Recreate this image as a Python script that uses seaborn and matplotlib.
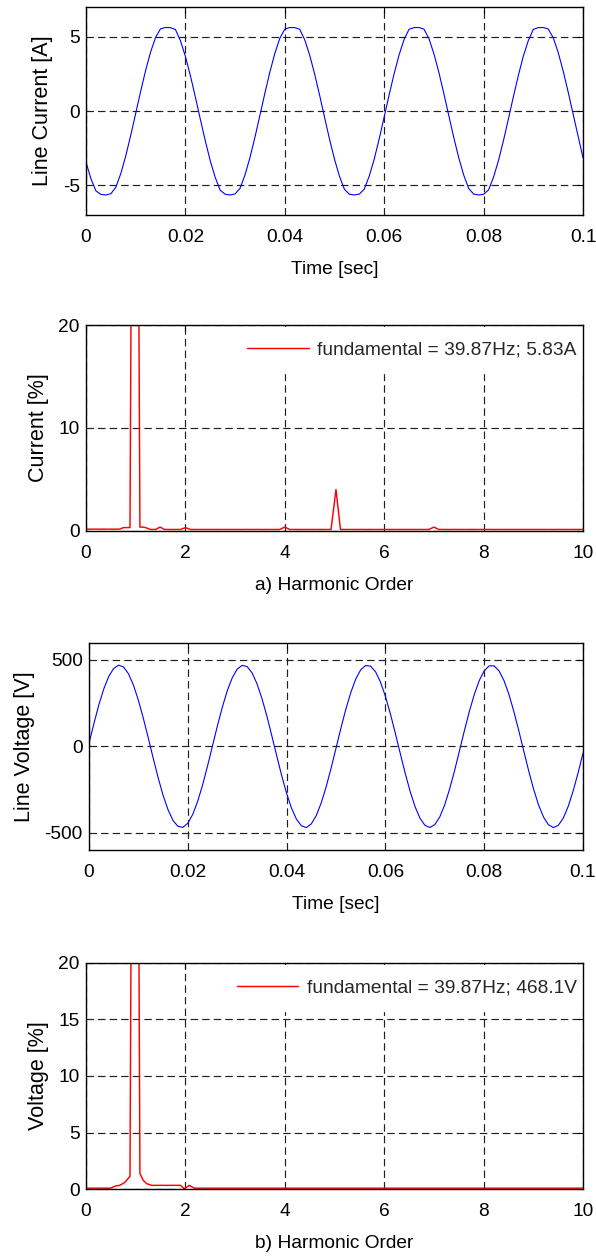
import matplotlib
matplotlib.use("Agg")
import matplotlib.pyplot as plt
import seaborn as sns
import numpy as np
import pandas as pd

# ---------------- data ----------------
t_ms = list(range(0, 101))  # sample instants in ms (0 .. 100 ms)

line_current = [
    -3.44, -4.56, -5.38, -5.61, -5.65, -5.57, -5.13, -4.21, -3.01, -1.63,
    -0.15, 1.34, 2.75, 3.99, 4.97, 5.55, 5.64, 5.63, 5.50, 4.75,
    3.69, 2.40, 0.96, -0.54, -2.00, -3.34, -4.47, -5.33, -5.60, -5.65,
    -5.58, -5.20, -4.29, -3.12, -1.75, -0.27, 1.22, 2.64, 3.90, 4.91,
    5.53, 5.64, 5.63, 5.52, 4.82, 3.78, 2.51, 1.08, -0.42, -1.89,
    -3.24, -4.39, -5.27, -5.60, -5.65, -5.59, -5.25, -4.37, -3.22, -1.86,
    -0.39, 1.11, 2.53, 3.80, 4.83, 5.52, 5.63, 5.64, 5.53, 4.89,
    3.87, 2.61, 1.19, -0.30, -1.78, -3.14, -4.31, -5.21, -5.59, -5.65,
    -5.60, -5.31, -4.45, -3.32, -1.98, -0.51, 0.99, 2.42, 3.71, 4.76,
    5.51, 5.63, 5.64, 5.54, 4.96, 3.96, 2.72, 1.31, -0.18, -1.66,
    -3.14,
]

line_voltage = [
    18, 133, 241, 333, 405, 451, 470, 459, 420, 354,
    267, 162, 48, -69, -182, -284, -367, -429, -463, -469,
    -445, -394, -318, -223, -113, 3, 120, 228, 323, 397,
    447, 469, 462, 426, 363, 278, 176, 62, -55, -169,
    -272, -358, -422, -460, -470, -449, -401, -328, -235, -127,
    -11, 106, 216, 312, 390, 443, 468, 464, 432, 372,
    290, 189, 77, -40, -155, -260, -349, -416, -457, -470,
    -453, -409, -339, -247, -141, -25, 92, 203, 301, 381,
    437, 466, 466, 437, 381, 301, 202, 91, -26, -141,
    -248, -339, -409, -454, -470, -457, -416, -348, -259, -154,
    -40,
]

h_current = [0, 0.68, 0.75, 0.885, 0.985, 1.085, 1.14, 1.2, 1.3, 1.4,
             1.49, 1.58, 1.9, 2.0, 2.1, 3.9, 4.0, 4.1, 4.93, 5.03,
             5.12, 6.9, 7.0, 7.1, 10]
spec_current = [0.15, 0.15, 0.3, 0.3, 100, 0.35, 0.35, 0.3, 0.12, 0.12,
                0.35, 0.12, 0.12, 0.3, 0.12, 0.12, 0.35, 0.12, 0.12, 4.0,
                0.12, 0.12, 0.35, 0.12, 0.12]

h_voltage = [0, 0.49, 0.6, 0.68, 0.78, 0.885, 0.985, 1.085, 1.15, 1.22,
             1.32, 1.45, 1.9, 1.98, 2.08, 2.18, 10]
spec_voltage = [0.1, 0.1, 0.3, 0.35, 0.6, 1.15, 100, 1.4, 0.8, 0.5,
                0.35, 0.35, 0.35, 0.05, 0.35, 0.1, 0.1]

legend_current = "fundamental = 39.87Hz; 5.83A"
legend_voltage = "fundamental = 39.87Hz; 468.1V"

time_ticks = [0, 0.02, 0.04, 0.06, 0.08, 0.1]
time_ticklabels = ["0", "0.02", "0.04", "0.06", "0.08", "0.1"]
order_ticks = [0, 2, 4, 6, 8, 10]

# ---------------- style ----------------
sns.set_theme(style="white")
plt.rcParams["font.family"] = ["Liberation Sans", "DejaVu Sans"]
plt.rcParams["axes.unicode_minus"] = False

TICK_FS = 13.8
LABEL_FS = 15.5
XLABEL_FS = 13.8

fig = plt.figure(figsize=(5.96, 12.6), dpi=100)
W, H = 596.0, 1260.0


def add_axes(left, right, top, bottom):
    return fig.add_axes([left / W, 1 - bottom / H, (right - left) / W, (bottom - top) / H])


ax1 = add_axes(86, 583, 7.3, 215)
ax2 = add_axes(86, 583, 325, 530.7)
ax3 = add_axes(89, 583, 642.7, 850)
ax4 = add_axes(86, 583, 962.7, 1189.3)

df_i = pd.DataFrame({"t": np.array(t_ms) / 1000.0, "i": line_current})
df_v = pd.DataFrame({"t": np.array(t_ms) / 1000.0, "v": line_voltage})
df_hi = pd.DataFrame({"h": h_current, "p": spec_current})
df_hv = pd.DataFrame({"h": h_voltage, "p": spec_voltage})

sns.lineplot(data=df_i, x="t", y="i", ax=ax1, color="#0000ff", lw=0.8, estimator=None)
sns.lineplot(data=df_hi, x="h", y="p", ax=ax2, color="#ff0000", lw=1.05, estimator=None,
             label=legend_current)
sns.lineplot(data=df_v, x="t", y="v", ax=ax3, color="#0000ff", lw=0.8, estimator=None)
sns.lineplot(data=df_hv, x="h", y="p", ax=ax4, color="#ff0000", lw=1.05, estimator=None,
             label=legend_voltage)

grid_ls = (0, (6.3, 3.5))

def style(ax, xlim, ylim, xticks, yticks, xlabel, ylabel, xticklabels=None):
    ax.set_xlim(*xlim)
    ax.set_ylim(*ylim)
    ax.set_xticks(xticks)
    if xticklabels is not None:
        ax.set_xticklabels(xticklabels)
    ax.set_yticks(yticks)
    ax.grid(True, color="0.12", lw=0.85, ls=grid_ls)
    ax.set_axisbelow(True)
    for s in ax.spines.values():
        s.set_color("black")
        s.set_linewidth(1.0)
        s.set_visible(True)
        s.set_zorder(6)
    ax.tick_params(axis="both", direction="in", length=4, width=0.8, color="black",
                   labelsize=TICK_FS, labelcolor="black", top=True, right=True)
    ax.tick_params(axis="x", pad=10)
    ax.tick_params(axis="y", pad=4.5)
    ax.set_xlabel(xlabel, fontsize=XLABEL_FS, color="black", labelpad=11)
    ax.set_ylabel(ylabel, fontsize=LABEL_FS, color="black", labelpad=7)


style(ax1, (0, 0.1), (-7, 7), time_ticks, [-5, 0, 5], "Time [sec]", "Line Current [A]",
      time_ticklabels)
style(ax2, (0, 10), (0, 20), order_ticks, [0, 10, 20], "a) Harmonic Order", "Current [%]")
style(ax3, (0, 0.1), (-600, 600), time_ticks, [-500, 0, 500], "Time [sec]", "Line Voltage [V]",
      time_ticklabels)
style(ax4, (0, 10), (0, 20), order_ticks, [0, 5, 10, 15, 20], "b) Harmonic Order", "Voltage [%]")

for ax in (ax2, ax4):
    leg = ax.legend(loc="upper right", bbox_to_anchor=(1.016, 0.99), fontsize=TICK_FS,
                    frameon=True, fancybox=False, handlelength=3.2, handletextpad=0.45,
                    borderpad=0.75, borderaxespad=0.0)
    leg.get_frame().set_facecolor("white")
    leg.get_frame().set_edgecolor("white")
    leg.get_frame().set_alpha(1.0)
    leg.set_zorder(5)
    for line in leg.get_lines():
        line.set_linewidth(1.05)

fig.savefig("out.png", dpi=100)
